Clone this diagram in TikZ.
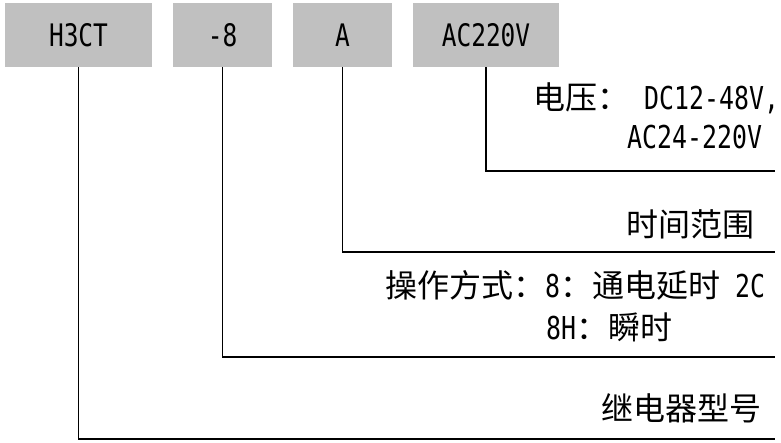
\documentclass[tikz,border=0pt]{standalone}
\usepackage{fontspec}
\setmainfont{Noto Sans CJK SC}
\newfontfamily\lat{DejaVu Sans Mono}[FakeStretch=0.79]
\definecolor{boxgray}{HTML}{C0C0C0}
\tikzset{
  codebox/.style={fill=boxgray, draw=none, inner sep=0pt, minimum height=64pt,
    font=\fontsize{31}{36}\selectfont\lat},
  conn/.style={draw=black, line width=1.6pt},
  lbl/.style={inner sep=0pt, font=\fontsize{32}{38}\selectfont}
}
\newcommand{\latin}[1]{{\fontsize{31.5}{38}\selectfont\lat #1}}
\begin{document}
\begin{tikzpicture}[x=1pt,y=-1pt]
\useasboundingbox (0,0) rectangle (781,442);
\node[codebox, minimum width=147pt] (b1) at (78.5,35) {H3CT};
\node[codebox, minimum width=99pt] (b2) at (222.5,35) {-8};
\node[codebox, minimum width=99pt] (b3) at (342.5,35) {A};
\node[codebox, minimum width=146pt] (b4) at (486,35) {AC220V};
\coordinate (e4) at (775,171);
\coordinate (e3) at (775,252);
\coordinate (e2) at (775,357);
\coordinate (e1) at (775,439);
\draw[conn] (b4.south) |- (e4);
\draw[conn] (b3.south) |- (e3);
\draw[conn] (b2.south) |- (e2);
\draw[conn] (b1.south) |- (e1);
\node[lbl, anchor=west] (t1) at (533,98) {电压：\latin{\ DC12-48V,}};
\node[lbl, anchor=west] (t2) at (627,137) {\latin{AC24-220V}};
\node[lbl, anchor=west] (t3) at (626,224) {时间范围};
\node[lbl, anchor=west] (t4) at (385,285) {操作方式：\latin{8}：通电延时\latin{\ 2C}};
\node[lbl, anchor=west] (t5) at (546,327) {\latin{8H}：瞬时};
\node[lbl, anchor=west] (t6) at (601,408) {继电器型号};
\end{tikzpicture}
\end{document}
